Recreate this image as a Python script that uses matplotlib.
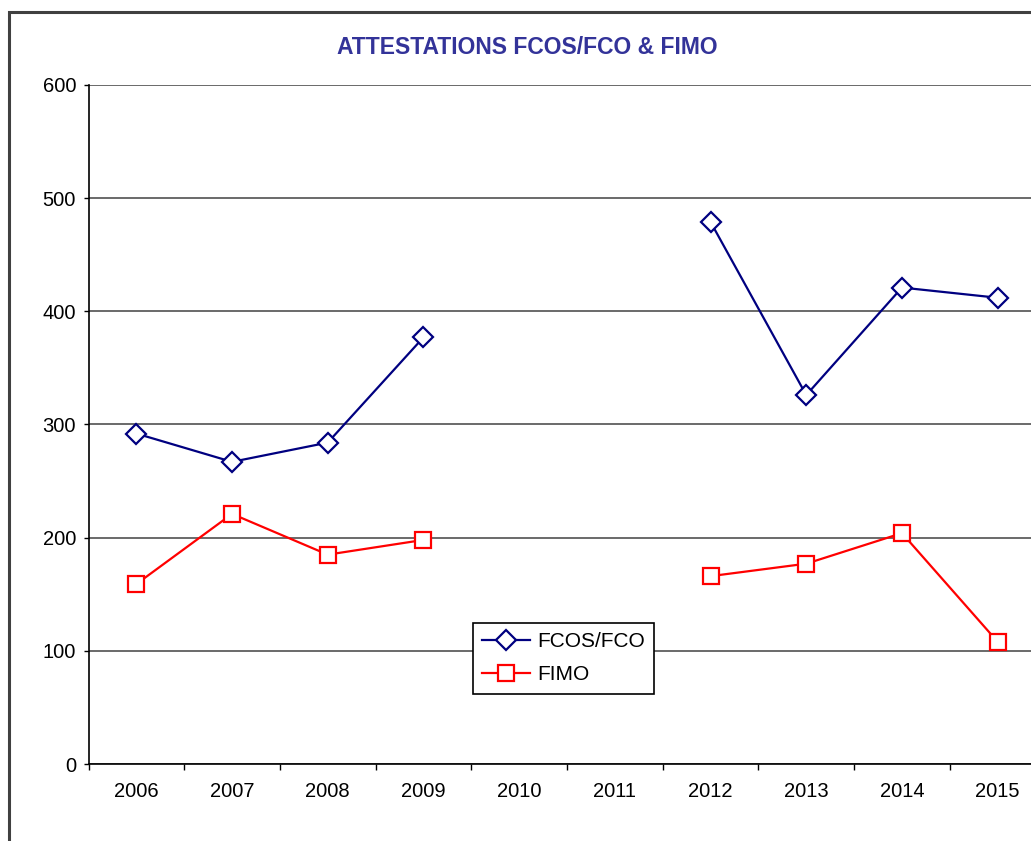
import numpy as np
import matplotlib
matplotlib.use("Agg")
import matplotlib.pyplot as plt
from matplotlib.patches import Rectangle

years = ["2006", "2007", "2008", "2009", "2010", "2011", "2012", "2013", "2014", "2015"]
fcos = [292, 267, 284, 377, np.nan, np.nan, 479, 326, 421, 412]
fimo = [159, 221, 185, 198, np.nan, np.nan, 166, 177, 204, 108]

W, H = 1031, 841
fig = plt.figure(figsize=(W / 100, H / 100), dpi=100)
plt.rcParams['font.family'] = ['Liberation Sans', 'DejaVu Sans']

# figure border (chart area frame)
fig.patches.append(Rectangle((9 / W, -0.1), 1.2, 1 - 12 / H + 0.1, transform=fig.transFigure,
                             fill=False, edgecolor='#404040', linewidth=2.2))

left, right = 88.5, 1045.5
top, bottom = 85, 764
ax = fig.add_axes([left / W, 1 - bottom / H, (right - left) / W, (bottom - top) / H])

x = np.arange(len(years))
ax.plot(x, fcos, color='#000080', linewidth=1.6, marker='D', markersize=10.5,
        markerfacecolor='white', markeredgecolor='#000080', markeredgewidth=1.6, label='FCOS/FCO')
ax.plot(x, fimo, color='#FF0000', linewidth=1.6, marker='s', markersize=11,
        markerfacecolor='white', markeredgecolor='#FF0000', markeredgewidth=1.6, label='FIMO')

ax.set_xlim(-0.5, len(years) - 0.5)
ax.set_ylim(0, 600)
ax.set_yticks(np.arange(0, 601, 100))
ax.set_xticks(x)
ax.set_xticklabels(years)
ax.set_xticks(np.arange(-0.5, len(years), 1), minor=True)
ax.tick_params(axis='x', which='major', length=0, pad=13, labelsize=14.5)
ax.tick_params(axis='x', which='minor', length=4.3, width=1, direction='out', color='black')
ax.tick_params(axis='y', length=3.5, width=1, direction='out', labelsize=14.5, pad=5.5)
ax.yaxis.grid(True, color='#505050', linewidth=1.2)
ax.set_axisbelow(True)
for s in ['top', 'right']:
    ax.spines[s].set_visible(False)
ax.spines['left'].set_color('black')
ax.spines['bottom'].set_color('black')
ax.spines['left'].set_linewidth(1.2)
ax.spines['bottom'].set_linewidth(1.2)

fig.text(527 / W, 1 - 47 / H, 'ATTESTATIONS FCOS/FCO & FIMO', ha='center', va='center',
         color='#333399', fontsize=16.5, fontweight='bold')

leg = ax.legend(loc='upper left', bbox_to_anchor=((473 - left) / (right - left), 1 - (623 - top) / (bottom - top)),
                frameon=True, fancybox=False, edgecolor='black', fontsize=15, handlelength=2.3,
                borderpad=0.45, labelspacing=0.66, handletextpad=0.33, borderaxespad=0)
leg.get_frame().set_linewidth(1.2)
leg.get_frame().set_alpha(1)

fig.savefig('out.png', dpi=100)
